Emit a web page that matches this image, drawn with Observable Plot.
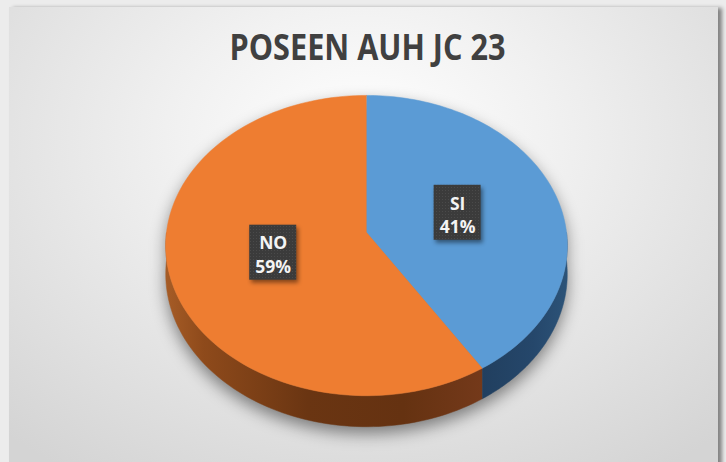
<!DOCTYPE html>
<html><head><meta charset="utf-8">
<script src="https://cdn.jsdelivr.net/npm/d3@7"></script>
<script src="https://cdn.jsdelivr.net/npm/@observablehq/plot@0.6"></script>
<style>
html,body{margin:0;padding:0;background:#ececec;width:726px;height:462px;overflow:hidden;}
#panel{position:absolute;left:9px;top:7px;width:709px;height:470px;
  background:radial-gradient(ellipse 75% 85% at 50% 28%, #ffffff 0%, #f1f1f1 35%, #d4d4d4 100%);
  box-shadow:4px 1px 4px rgba(0,0,0,0.45);}
#chart{position:absolute;left:0;top:0;}
</style></head><body><div id="panel"></div><div id="chart"></div>
<script>
// ---- data ----
const categories = ["SI", "NO"];
const values = [41, 59];
const percentLabels = ["41%", "59%"];
const title = "POSEEN AUH JC 23";

// ---- layout ----
const W = 726, H = 462;
const cx = 366, cy = 232, rx = 200, ry = 149, k = 0.087, depth = 0.19;

function proj(theta, r = 1, dz = 0) {
  const u = r * Math.sin(theta), v = -r * Math.cos(theta);
  const s = 1 / (1 - k * v);
  return {x: u * s, y: (v + dz) * s};
}
function arcPts(a0, a1, r, dz, n) {
  const pts = [];
  for (let i = 0; i <= n; i++) pts.push(proj(a0 + (a1 - a0) * i / n, r, dz));
  return pts;
}

const arcs = d3.pie().sort(null).value(d => d)(values);
const topFill = ["#5B9BD5", "#EE7D31"];
const sideFill = ["url(#sideSI)", "url(#sideNO)"];

const shadowPts = [...arcPts(-Math.PI / 2, Math.PI / 2, 1, 0, 90), ...arcPts(Math.PI / 2, 3 * Math.PI / 2, 1, depth, 90)];

const marks = [];
marks.push(Plot.line(shadowPts, {x: "x", y: "y", fill: "#000", fillOpacity: 0.45, stroke: "none", dy: 7, ariaDescription: "pieshadow"}));

arcs.forEach((a, i) => {
  const lo = Math.max(a.startAngle, Math.PI / 2), hi = Math.min(a.endAngle, 3 * Math.PI / 2);
  if (lo < hi) {
    const wall = [...arcPts(lo, hi, 1, 0, 80), ...arcPts(hi, lo, 1, depth, 80)];
    marks.push(Plot.line(wall, {x: "x", y: "y", fill: sideFill[i], stroke: sideFill[i], strokeWidth: 0.5}));
  }
});
arcs.forEach((a, i) => {
  const face = [{x: 0, y: 0}, ...arcPts(a.startAngle, a.endAngle, 1, 0, 120)];
  marks.push(Plot.line(face, {x: "x", y: "y", fill: topFill[i], stroke: topFill[i], strokeWidth: 0.5}));
});

const labelData = arcs.map((a, i) => {
  const p = proj((a.startAngle + a.endAngle) / 2, 0.48, 0);
  return {x: p.x, y: p.y, text: categories[i] + "\n" + percentLabels[i]};
});
const hw = 23.5 / rx, hh = 27.5 / ry;
marks.push(Plot.rect(labelData, {x1: d => d.x - hw, x2: d => d.x + hw, y1: d => d.y - hh, y2: d => d.y + hh,
  fill: "url(#dots)", ariaDescription: "labelbox"}));
marks.push(Plot.text(labelData, {x: "x", y: "y", text: "text", fill: "#f4f4f4", fontSize: 17.5, fontWeight: "bold",
  fontFamily: "Open Sans", lineHeight: 1.35, dy: 1}));
marks.push(Plot.text([title], {frameAnchor: "top", lineAnchor: "middle", dx: 4, dy: 48, text: d => d, fontSize: 35, fontWeight: "bold",
  fontFamily: "Open Sans", fill: "#404040", ariaDescription: "title"}));

const chart = Plot.plot({
  width: W, height: H, margin: 0,
  style: {background: "transparent", overflow: "visible"},
  x: {domain: [-cx / rx, (W - cx) / rx], range: [0, W], axis: null},
  y: {domain: [-cy / ry, (H - cy) / ry], range: [0, H], axis: null},
  marks
});

const svg = d3.select(chart);
const defs = svg.insert("defs", ":first-child");
const gNO = defs.append("linearGradient").attr("id", "sideNO").attr("x1", 0).attr("x2", 1).attr("y1", 0).attr("y2", 0);
[[0, "#a65c26"], [0.12, "#8e4a1b"], [0.45, "#6a3512"], [0.75, "#653211"], [1, "#74391a"]]
  .forEach(([o, c]) => gNO.append("stop").attr("offset", o).attr("stop-color", c));
const gSI = defs.append("linearGradient").attr("id", "sideSI").attr("x1", 0).attr("x2", 1).attr("y1", 0).attr("y2", 0);
[[0, "#213f5f"], [0.6, "#25476b"], [1, "#2c5378"]]
  .forEach(([o, c]) => gSI.append("stop").attr("offset", o).attr("stop-color", c));
const pat = defs.append("pattern").attr("id", "dots").attr("patternUnits", "userSpaceOnUse").attr("width", 3).attr("height", 3);
pat.append("rect").attr("width", 3).attr("height", 3).attr("fill", "#3b3b3b");
pat.append("rect").attr("x", 1).attr("y", 1).attr("width", 1).attr("height", 1).attr("fill", "#4a4a4a");

svg.selectAll("g[aria-description=pieshadow]").style("filter", "blur(8px)");
svg.selectAll("g[aria-description=labelbox]").style("filter", "drop-shadow(2px 3px 2px rgba(0,0,0,0.45))");
svg.selectAll("g[aria-description=title] text").attr("textLength", 276).attr("lengthAdjust", "spacingAndGlyphs");

document.getElementById("chart").appendChild(chart);
</script></body></html>
